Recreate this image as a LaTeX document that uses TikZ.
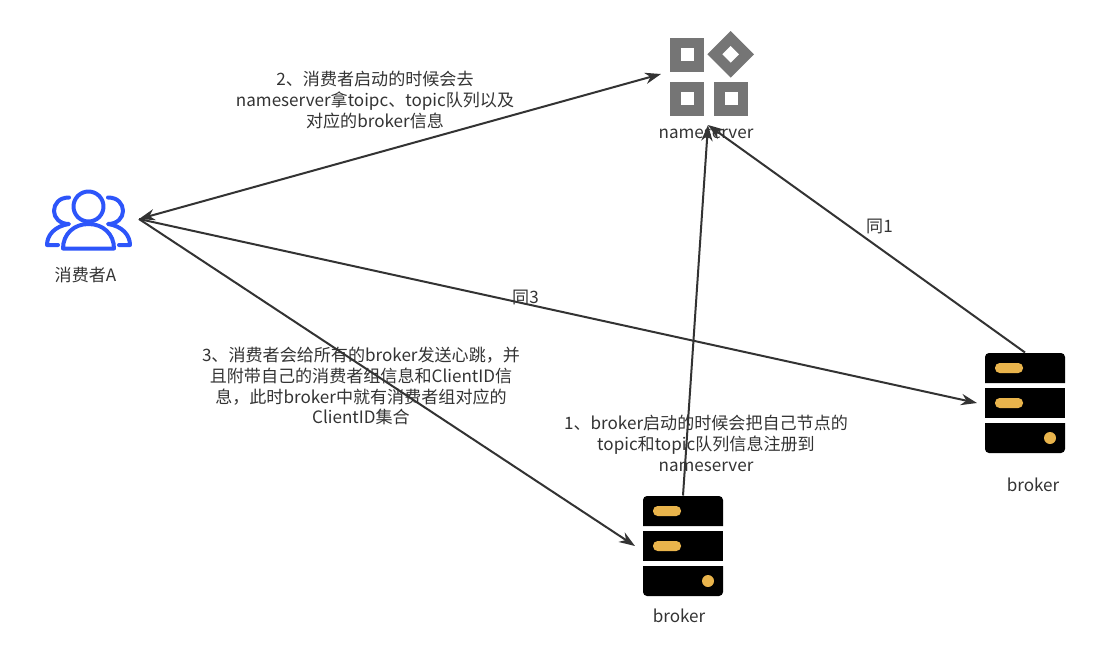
\documentclass[tikz,border=0pt]{standalone}
\usepackage{fontspec}
\setmainfont{Noto Sans CJK SC}
\usepackage{xcolor}
\usetikzlibrary{arrows.meta}
\definecolor{inkline}{HTML}{333333}
\definecolor{iconblue}{HTML}{2D55FA}
\definecolor{icongray}{HTML}{757575}
\definecolor{ledyellow}{HTML}{E9B44C}
\tikzset{
  iconbox/.style={minimum width=72pt, minimum height=75.75pt, inner sep=0pt, outer sep=0pt},
  flow/.style={draw=inkline, line width=1.5pt, -{Stealth[length=12pt,width=8.5pt]}},
  flowboth/.style={flow, {Stealth[length=12pt,width=8.5pt]}-{Stealth[length=12pt,width=8.5pt]}},
  note/.style={text=inkline, font=\fontsize{12.8pt}{15.7pt}\selectfont, align=center, inner sep=0pt},
  serverpic/.pic={
    \fill[black] (-40,-20) [rounded corners=3pt] -- (-40,-50) -- (40,-50) [sharp corners] -- (40,-20) -- cycle;
    \fill[black] (-40,-15) rectangle (40,15);
    \fill[black] (-40,20) [rounded corners=3pt] -- (-40,50) -- (40,50) [sharp corners] -- (40,20) -- cycle;
    \fill[ledyellow, rounded corners=3.5pt] (-30,-40) rectangle (-2,-30);
    \fill[ledyellow, rounded corners=3.5pt] (-30,-5) rectangle (-2,5);
    \fill[ledyellow] (25,35) circle (6);
  },
  cellpic/.pic={
    \fill[icongray] (-17,-17) rectangle (17,17);
    \fill[white] (-6.5,-6.5) rectangle (6.5,6.5);
  }
}
\begin{document}
\begin{tikzpicture}[x=0.75pt, y=-0.75pt]
\useasboundingbox (0,0) rectangle (1119,664);

% icons
\node[iconbox, minimum width=70.5pt, minimum height=46.5pt] (consumer) at (92,219) {};
\node[iconbox, minimum width=70.5pt, minimum height=76.5pt] (nameserver) at (708,74) {};
\node[iconbox] (brokerA) at (683,546) {};
\node[iconbox] (brokerB) at (1025,403) {};

\begin{scope}[draw=iconblue, line width=3pt, line cap=round, line join=round]
\draw (88.5,206.5) circle (15);
\draw (63,248.5) .. controls (63,234) and (74,224) .. (88.5,224)
      .. controls (103,224) and (114,234) .. (114,248.5) -- cycle;
\draw (69,197.5) .. controls (59,197.5) and (54,204) .. (54,211)
      .. controls (54,218) and (60,224) .. (69,224)
      .. controls (55,226) and (47,235) .. (47,245) -- (58,245);
\draw (108,197.5) .. controls (118,197.5) and (123,204) .. (123,211)
      .. controls (123,218) and (117,224) .. (108,224)
      .. controls (122,226) and (130,235) .. (130,245) -- (119,245);
\end{scope}

\pic at (687,54.5) {cellpic};
\pic at (687,98.5) {cellpic};
\pic at (731,98.5) {cellpic};
\fill[icongray] (730.7,31) -- (754,54.3) -- (730.7,77.6) -- (707.4,54.3) -- cycle;
\fill[white] (730.7,46) -- (739,54.3) -- (730.7,62.6) -- (722.4,54.3) -- cycle;

\pic at (brokerA) {serverpic};
\pic at (brokerB) {serverpic};

% labels
\node[note] (consumerlabel) at (85.5,275) {消费者A};
\node[note] (nameserverlabel) at (706,134) {nameserver};
\node[note] (brokerAlabel) at (679,616) {broker};
\node[note] (brokerBlabel) at (1033,485) {broker};
\node[note] (stepone) at (706,443) {1、broker启动的时候会把自己节点的\\topic和topic队列信息注册到\\nameserver};
\node[note] (steptwo) at (375,100) {2、消费者启动的时候会去\\nameserver拿toipc、topic队列以及\\对应的broker信息};
\node[note] (stepthree) at (361,386) {3、消费者会给所有的broker发送心跳，并\\且附带自己的消费者组信息和ClientID信\\息，此时broker中就有消费者组对应的\\ClientID集合};
\node[note] (sameone) at (879.5,226) {同1};
\node[note] (samethree) at (525.5,297) {同3};

% connectors
\draw[flowboth] (consumer.east) -- (nameserver.west);
\draw[flow] (consumer.east) -- (brokerB.west);
\draw[flow] (consumer.east) -- (brokerA.west);
\draw[flow] (brokerA.north) -- (nameserver.south);
\draw[flow] (brokerB.north) -- (nameserver.south);
\end{tikzpicture}
\end{document}
